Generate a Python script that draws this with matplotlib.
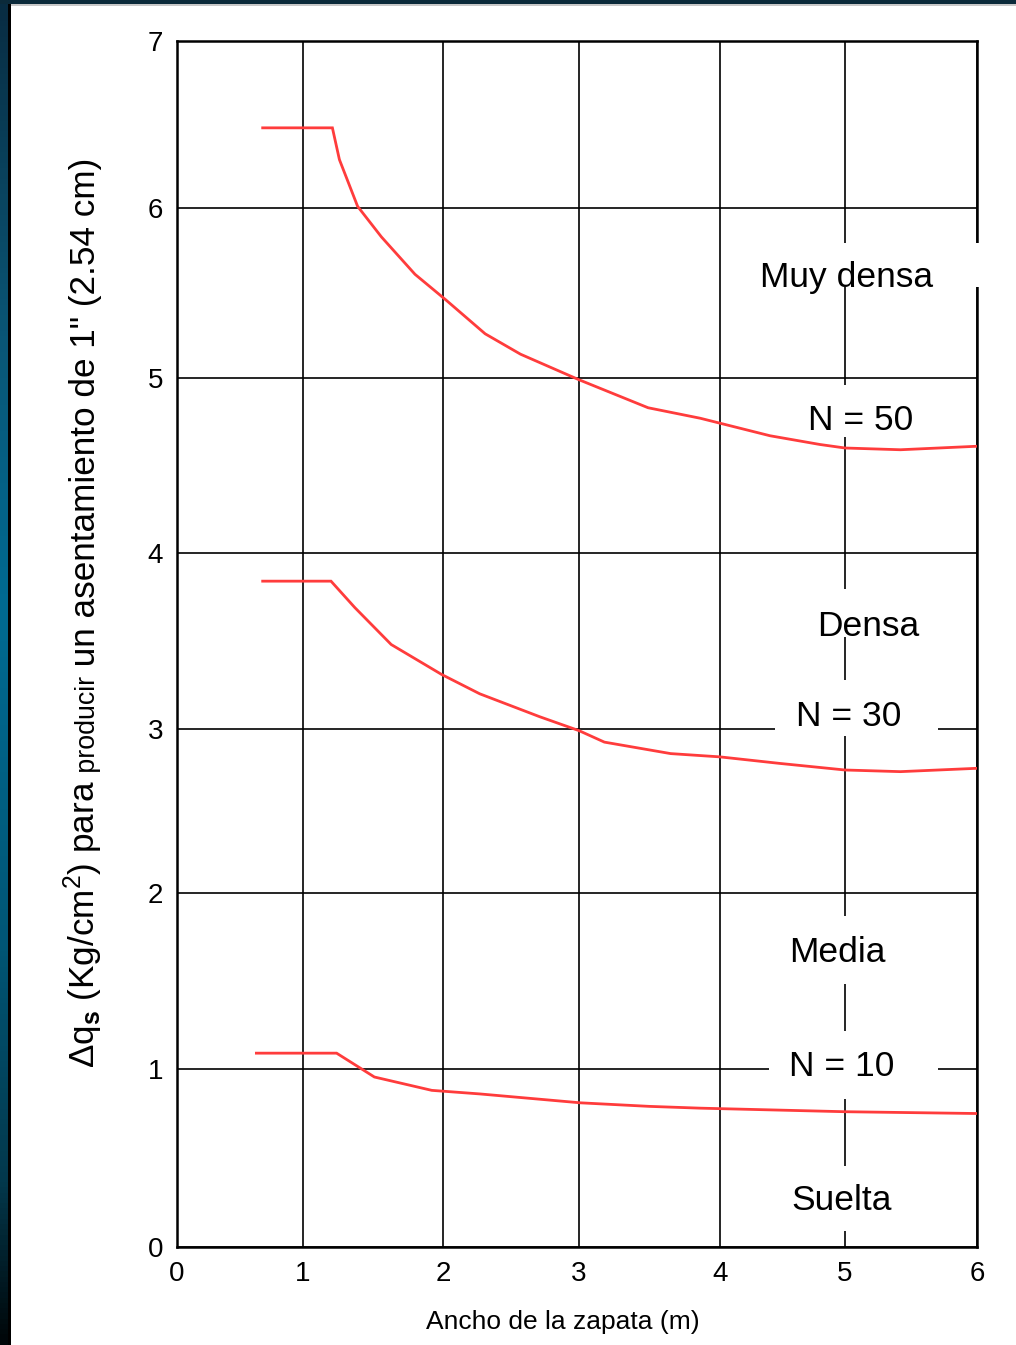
import numpy as np
import matplotlib
matplotlib.use("Agg")
import matplotlib.pyplot as plt
from matplotlib.patches import Rectangle
from matplotlib.colors import LinearSegmentedColormap
from matplotlib.transforms import IdentityTransform

plt.rcParams['font.family'] = ['Liberation Sans', 'DejaVu Sans']
plt.rcParams['mathtext.fontset'] = 'custom'
plt.rcParams['mathtext.rm'] = 'Liberation Sans'
plt.rcParams['mathtext.it'] = 'Liberation Sans:italic'
plt.rcParams['mathtext.bf'] = 'Liberation Sans:bold'

# ---------------- data ----------------
x_ticks = [0, 1, 2, 3, 4, 5, 6]
y_ticks = [0, 1, 2, 3, 4, 5, 6, 7]

n50_x = [0.68, 1.21, 1.26, 1.39, 1.56, 1.80, 2.02, 2.31, 2.57, 3.00, 3.49, 3.86, 4.40, 4.80, 5.00, 5.42, 6.00]
n50_y = [6.48, 6.48, 6.29, 6.01, 5.83, 5.61, 5.46, 5.26, 5.14, 4.99, 4.83, 4.77, 4.67, 4.62, 4.60, 4.59, 4.61]

n30_x = [0.68, 1.20, 1.37, 1.63, 1.99, 2.27, 2.71, 3.00, 3.18, 3.65, 4.00, 4.48, 5.00, 5.42, 5.99]
n30_y = [3.84, 3.84, 3.69, 3.48, 3.31, 3.20, 3.07, 2.99, 2.92, 2.85, 2.83, 2.79, 2.75, 2.74, 2.76]

n10_x = [0.63, 1.24, 1.51, 1.92, 2.27, 3.01, 3.50, 3.86, 5.00, 5.99]
n10_y = [1.09, 1.09, 0.955, 0.88, 0.86, 0.81, 0.79, 0.78, 0.76, 0.75]

region_labels = ["Muy densa", "N = 50", "Densa", "N = 30", "Media", "N = 10", "Suelta"]

x_label = "Ancho de la zapata (m)"
y_label_parts = [r"$\Delta$q$_\mathbf{s}$ (Kg/cm$^2$) para", " producir",
                 " un asentamiento de 1\" (2.54 cm)"]

# ---------------- layout ----------------
W, H = 1016, 1345
AX_L, AX_R, AX_T, AX_B = 177, 977, 41, 1247
AW, AH = AX_R - AX_L, AX_B - AX_T
# non-uniform scale of the original chart (pixel offsets of ticks)
XP = [0, 126, 266, 402, 543, 668, 800]
YP = [0, 178, 354, 518, 694, 869, 1039, 1206]


def fx(v):
    return np.interp(v, x_ticks, XP)


def fx_inv(p):
    return np.interp(p, XP, x_ticks)


def fy(v):
    return np.interp(v, y_ticks, YP)


def fy_inv(p):
    return np.interp(p, YP, y_ticks)


def axfrac(px, py):
    return (px - AX_L) / AW, (AX_B - py) / AH


fig = plt.figure(figsize=(W / 100, H / 100), dpi=100, facecolor='white')

# frame decoration
gax = fig.add_axes([0, 0, 8 / W, 1])
cmap = LinearSegmentedColormap.from_list(
    'frame', [(0, '#082c42'), (0.25, '#0a5676'), (0.45, '#006a92'),
              (0.7, '#005676'), (0.88, '#03384c'), (1.0, '#000608')])
gax.imshow(np.linspace(0, 1, 256)[:, None], aspect='auto', cmap=cmap)
gax.axis('off')
fig.patches.append(Rectangle((8, 0), 3, H, transform=IdentityTransform(),
                             facecolor='black', edgecolor='none', zorder=5))
fig.patches.append(Rectangle((0, H - 4), W, 4, transform=IdentityTransform(),
                             facecolor='#0b2a3a', edgecolor='none', zorder=5))
fig.patches.append(Rectangle((11, H - 5.5), W, 1.5, transform=IdentityTransform(),
                             facecolor='#c8c8c8', edgecolor='none', zorder=5))

ax = fig.add_axes([AX_L / W, (H - AX_B) / H, AW / W, AH / H])
ax.set_xscale('function', functions=(fx, fx_inv))
ax.set_yscale('function', functions=(fy, fy_inv))
ax.set_xlim(0, 6)
ax.set_ylim(0, 7)
ax.set_xticks(x_ticks)
ax.set_yticks(y_ticks)
ax.set_xticklabels([str(t) for t in x_ticks])
ax.set_yticklabels([str(t) for t in y_ticks])
ax.minorticks_off()
ax.tick_params(length=0, labelsize=20, pad=10, colors='black')
ax.grid(True, color='black', linewidth=1.2)
ax.set_axisbelow(True)
for s in ax.spines.values():
    s.set_linewidth(1.8)
    s.set_color('black')

red = '#ff3c3c'
for xs, ys in [(n50_x, n50_y), (n30_x, n30_y), (n10_x, n10_y)]:
    ax.plot(xs, ys, color=red, linewidth=2.0, zorder=4, solid_joinstyle='miter')

# white gaps behind labels (pixel boxes: x0, x1, y0, y1)
gaps = [(755, 985, 243, 287), (800, 925, 385, 437), (810, 930, 589, 637),
        (775, 938, 680, 736), (785, 890, 916, 984), (769, 938, 1031, 1099),
        (790, 895, 1166, 1231)]
for x0, x1, y0, y1 in gaps:
    a0 = axfrac(x0, y1)
    a1 = axfrac(x1, y0)
    ax.add_patch(Rectangle(a0, a1[0] - a0[0], a1[1] - a0[1], transform=ax.transAxes,
                           facecolor='white', edgecolor='none', zorder=3, clip_on=False))

label_pos = [(847, 278), (861, 420), (868, 626), (849, 716), (837, 953), (842, 1067), (842, 1201)]
for txt, (px, py) in zip(region_labels, label_pos):
    ax.text(*axfrac(px, py), txt, transform=ax.transAxes, ha='center', va='center',
            fontsize=25.5, color='black', zorder=6)

fig.text(563 / W, (H - 1322) / H, x_label, ha='center', va='center', fontsize=19)

# composed y label
renderer = fig.canvas.get_renderer()
ypos = H - 1068
for part, size in zip(y_label_parts, [25.3, 19.3, 25.3]):
    t = fig.text(95, ypos, part, transform=IdentityTransform(), rotation=90,
                 rotation_mode='anchor', ha='left', va='baseline', fontsize=size)
    ext = t.get_window_extent(renderer)
    ypos = ext.y1

fig.savefig('out.png', dpi=100, facecolor='white')
